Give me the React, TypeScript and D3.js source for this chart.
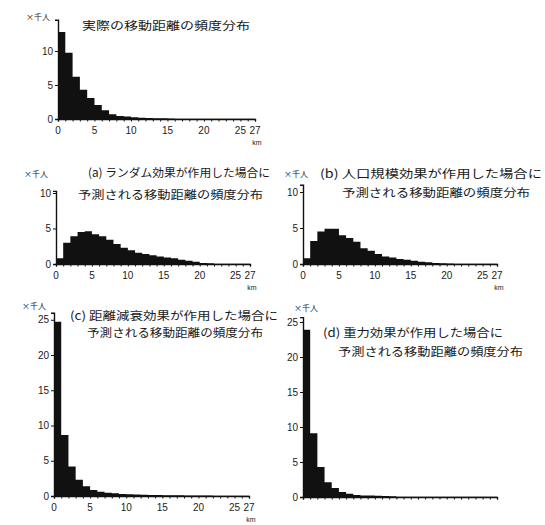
import { useEffect, useRef } from "react";
import * as d3 from "d3";

// distance bins (km), 1 km wide each
const binStarts = [0, 1, 2, 3, 4, 5, 6, 7, 8, 9, 10, 11, 12, 13, 14, 15, 16, 17, 18, 19, 20, 21, 22, 23, 24, 25, 26];

// frequencies, ×千人
const actual = [12.8, 9.75, 6.2, 4.3, 3.1, 2.05, 1.3, 0.7, 0.45, 0.35, 0.25, 0.2, 0.15, 0.12, 0.1, 0.08, 0.05, 0.04, 0.04, 0.03, 0.03, 0.03, 0.03, 0.03, 0.02, 0.02, 0.02];
const randomEffect = [0.8, 3.0, 3.9, 4.5, 4.6, 4.2, 3.9, 3.4, 2.8, 2.3, 1.95, 1.6, 1.4, 1.25, 1.05, 0.9, 0.8, 0.6, 0.45, 0.3, 0.15, 0.1, 0.03, 0.03, 0.03, 0.02, 0.02];
const populationEffect = [0.8, 3.2, 4.5, 4.9, 4.9, 4.0, 3.6, 3.1, 2.2, 1.85, 1.4, 1.05, 0.9, 0.7, 0.6, 0.45, 0.3, 0.25, 0.15, 0.1, 0.08, 0.05, 0.04, 0.03, 0.03, 0.02, 0.02];
const decayEffect = [24.7, 8.65, 4.2, 2.3, 1.4, 0.85, 0.6, 0.47, 0.4, 0.3, 0.25, 0.2, 0.17, 0.15, 0.13, 0.1, 0.1, 0.09, 0.08, 0.08, 0.07, 0.06, 0.05, 0.05, 0.05, 0.05, 0.05];
const gravityEffect = [23.9, 9.1, 4.3, 2.1, 1.3, 0.7, 0.45, 0.3, 0.2, 0.2, 0.18, 0.15, 0.12, 0.03, 0.03, 0.03, 0.03, 0.03, 0.03, 0.03, 0.03, 0.03, 0.03, 0.03, 0.03, 0.03, 0.03];

const xLabels = [0, 5, 10, 15, 20, 25, 27];
const smallTicks = [0, 5, 10];
const bigTicks = [0, 5, 10, 15, 20, 25];
const unitLabel = "×千人";
const kmLabel = "km";

const titleActual = ["実際の移動距離の頻度分布"];
const titleA = ["(a) ランダム効果が作用した場合に", "予測される移動距離の頻度分布"];
const titleB = ["(b) 人口規模効果が作用した場合に", "予測される移動距離の頻度分布"];
const titleC = ["(c) 距離減衰効果が作用した場合に", "予測される移動距離の頻度分布"];
const titleD = ["(d) 重力効果が作用した場合に", "予測される移動距離の頻度分布"];

const panels = [
  { values: actual, ticks: smallTicks, title: titleActual, x0: 58, x1: 255, y0: 119, ppu: 6.8, yTop: 14.6,
    titlePos: [[82, 30, 168]], unitPos: [26, 20], showX: true },
  { values: randomEffect, ticks: smallTicks, title: titleA, x0: 56, x1: 250, y0: 264, ppu: 7.1, yTop: 10.3,
    titlePos: [[88, 177, 182], [78, 199, 185]], unitPos: [24, 177], showX: true },
  { values: populationEffect, ticks: smallTicks, title: titleB, x0: 303, x1: 497, y0: 264, ppu: 7.2, yTop: 11,
    titlePos: [[320, 178, 222], [342, 197, 188]], unitPos: [284, 177], showX: true },
  { values: decayEffect, ticks: bigTicks, title: titleC, x0: 54, x1: 249, y0: 496, ppu: 7.05, yTop: 26,
    titlePos: [[70, 320, 208], [87, 337, 176]], unitPos: [22, 309], showX: true },
  { values: gravityEffect, ticks: bigTicks, title: titleD, x0: 303, x1: 497, y0: 497, ppu: 7.0, yTop: 25.7,
    titlePos: [[323, 337, 180], [338, 356, 185]], unitPos: [294, 311], showX: false },
];

const ink = "#111";

function App() {
  const ref = useRef(null);

  useEffect(() => {
    const svg = d3.select(ref.current);
    svg.selectAll("*").remove();
    svg.append("rect").attr("width", 545).attr("height", 525).attr("fill", "#fff");

    panels.forEach((p) => {
      const x = d3.scaleLinear().domain([0, 27]).range([p.x0, p.x1]);
      const y = d3.scaleLinear().domain([0, p.yTop]).range([p.y0, p.y0 - p.yTop * p.ppu]);
      const g = svg.append("g");

      // histogram as one stepped area, so the bars merge into a solid black mass
      const steps = binStarts.map((d, i) => [d, p.values[i]]);
      steps.push([27, p.values[p.values.length - 1]]);
      const area = d3.area()
        .x((d) => x(d[0]))
        .y0(p.y0)
        .y1((d) => y(d[1]))
        .curve(d3.curveStepAfter);
      g.append("path").attr("d", area(steps)).attr("fill", ink);

      // y axis
      const yAxis = g.append("g")
        .attr("transform", `translate(${p.x0},0)`)
        .call(d3.axisLeft(y).tickValues(p.ticks).tickSize(3).tickPadding(2));
      yAxis.select(".domain").attr("stroke", ink).attr("stroke-width", 1.4);
      yAxis.selectAll(".tick line").attr("stroke", ink);
      yAxis.selectAll("text")
        .attr("font-family", "'Liberation Sans', 'Noto Sans', sans-serif")
        .attr("font-size", 10)
        .attr("fill", "#222");

      // x axis: minor ticks every km
      const xAxis = g.append("g")
        .attr("transform", `translate(0,${p.y0})`)
        .call(d3.axisBottom(x).tickValues(d3.range(0, 28)).tickSize(2.5).tickFormat(() => ""));
      xAxis.select(".domain").attr("stroke", ink).attr("stroke-width", 1.4);
      xAxis.selectAll(".tick line").attr("stroke", ink);

      if (p.showX) {
        g.selectAll("text.xl")
          .data(xLabels)
          .enter()
          .append("text")
          .attr("class", "xl")
          .attr("x", (d) => x(d))
          .attr("y", p.y0 + 15)
          .attr("text-anchor", "middle")
          .attr("font-family", "'Liberation Sans', 'Noto Sans', sans-serif")
          .attr("font-size", 10)
          .attr("fill", "#222")
          .text((d) => d);
        g.append("text")
          .attr("x", x(27) + 2)
          .attr("y", p.y0 + 26)
          .attr("text-anchor", "middle")
          .attr("font-family", "'Liberation Sans', sans-serif")
          .attr("font-size", 7)
          .attr("fill", "#222")
          .text(kmLabel);
      }

      // unit label
      g.append("text")
        .attr("x", p.unitPos[0])
        .attr("y", p.unitPos[1])
        .attr("font-family", "'Noto Sans CJK JP', sans-serif")
        .attr("font-size", 8)
        .attr("fill", "#222")
        .text(unitLabel);

      // title lines
      p.title.forEach((line, i) => {
        const [tx, ty, tw] = p.titlePos[i];
        g.append("text")
          .attr("x", tx)
          .attr("y", ty)
          .attr("font-family", "'Noto Sans CJK JP', sans-serif")
          .attr("font-size", 11.5)
          .attr("fill", "#1a1a1a")
          .attr("textLength", tw)
          .attr("lengthAdjust", "spacingAndGlyphs")
          .text(line);
      });
    });
  }, []);

  return <svg ref={ref} width={545} height={525} style={{ position: "absolute", left: 0, top: 0 }}></svg>;
}

export default App;
